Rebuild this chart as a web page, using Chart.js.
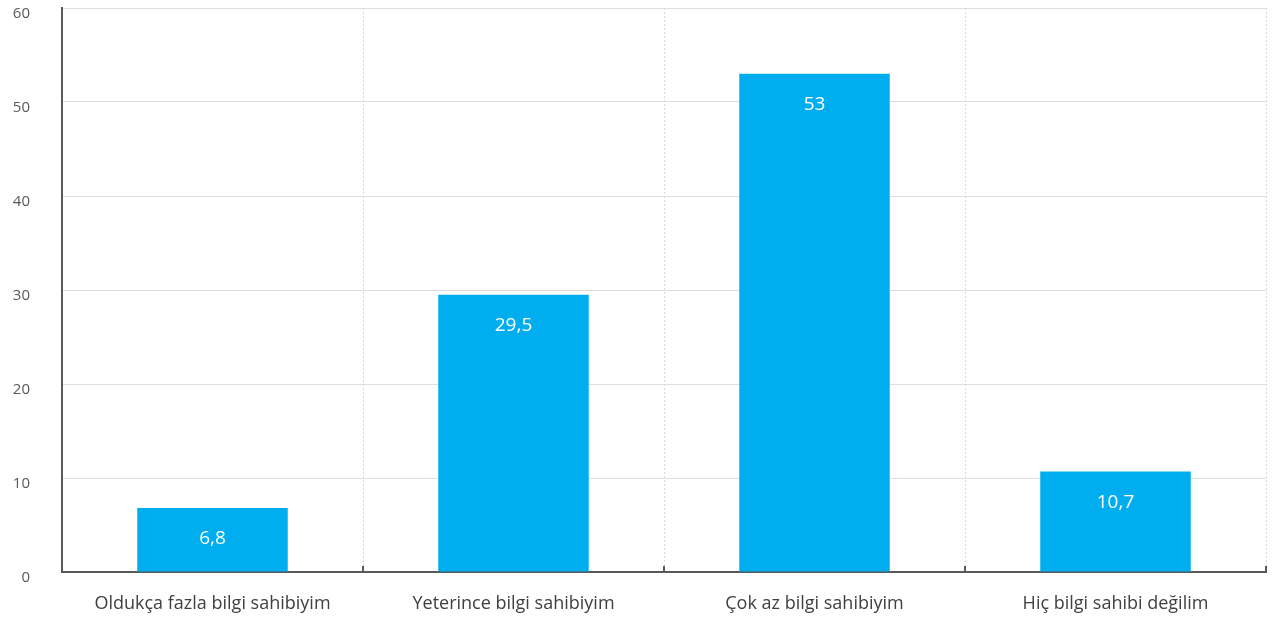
<!DOCTYPE html>
<html>
<head>
<meta charset="utf-8">
<script src="https://cdn.jsdelivr.net/npm/chart.js@4.4.0/dist/chart.umd.min.js"></script>
<style>
    html, body { margin: 0; padding: 0; background: #fff; }
    #wrap { width: 1272px; height: 617px; }
</style>
</head>
<body>
<div id="wrap"><canvas id="grafico"></canvas></div>
<script>
const categorias = ['Oldukça fazla bilgi sahibiyim', 'Yeterince bilgi sahibiyim', 'Çok az bilgi sahibiyim', 'Hiç bilgi sahibi değilim'];
const valores = [6.8, 29.5, 53, 10.7];
const ejeY = [0, 10, 20, 30, 40, 50, 60];

// Etiquetas blancas dentro de las barras
const etiquetas = {
    id: 'etiquetas',
    afterDatasetsDraw(chart) {
        const ctx = chart.ctx;
        const meta = chart.getDatasetMeta(0);
        ctx.save();
        ctx.fillStyle = '#ffffff';
        ctx.font = '19px "Open Sans"';
        ctx.textAlign = 'center';
        ctx.textBaseline = 'middle';
        meta.data.forEach((barra, i) => {
            ctx.fillText(String(valores[i]).replace('.', ','), barra.x, barra.y + 31);
        });
        ctx.restore();
    }
};

// Marcas cortas sobre el eje X en los limites de categoria
const marcas = {
    id: 'marcas',
    afterDraw(chart) {
        const x = chart.scales.x;
        const ctx = chart.ctx;
        const paso = x.width / categorias.length;
        ctx.save();
        ctx.strokeStyle = '#595959';
        ctx.lineWidth = 2;
        for (let i = 1; i <= categorias.length; i++) {
            const px = Math.round(x.left + i * paso);
            ctx.beginPath();
            ctx.moveTo(px, x.top);
            ctx.lineTo(px, x.top - 6);
            ctx.stroke();
        }
        ctx.restore();
    }
};

new Chart(document.getElementById('grafico'), {
    type: 'bar',
    data: {
        labels: categorias,
        datasets: [{
            data: valores,
            backgroundColor: '#00AEEF',
            categoryPercentage: 1,
            barPercentage: 0.5
        }]
    },
    options: {
        responsive: true,
        maintainAspectRatio: false,
        animation: false,
        layout: { padding: { top: 8, right: 6, bottom: 4, left: 0 } },
        plugins: { legend: { display: false }, tooltip: { enabled: false } },
        scales: {
            x: {
                afterFit(scale) { scale.height = 41; },
                grid: { color: '#d9d9d9', drawTicks: false, offset: true },
                border: { color: '#595959', width: 2, dash: [2, 2] },
                ticks: { color: '#404040', font: { family: 'Open Sans', size: 18 }, padding: 21 }
            },
            y: {
                min: 0,
                max: 60,
                afterBuildTicks(scale) { scale.ticks = ejeY.map(v => ({ value: v })); },
                afterFit(scale) {
                    scale.width = 62;
                    scale.paddingTop = 0;
                    scale.paddingBottom = 0;
                },
                grid: { color: '#dedede', drawTicks: false },
                border: { color: '#595959', width: 2 },
                ticks: {
                    color: '#595959',
                    font: { family: 'Open Sans', size: 15 },
                    padding: 32,
                    labelOffset: 6
                }
            }
        }
    },
    plugins: [etiquetas, marcas]
});
</script>
</body>
</html>
